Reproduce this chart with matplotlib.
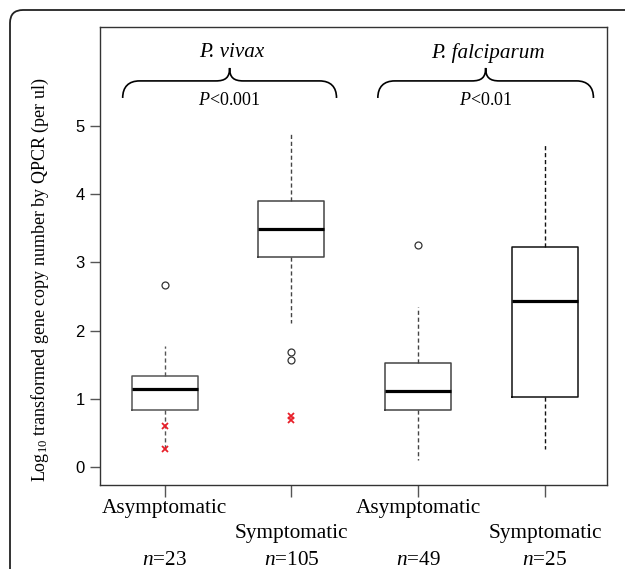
import numpy as np
import matplotlib
matplotlib.use("Agg")
import matplotlib.pyplot as plt
from matplotlib.path import Path
from matplotlib.patches import PathPatch, FancyBboxPatch
import matplotlib.transforms as mtransforms

# 数据 (从图中读取的箱线图统计量)
groups = ["Asymptomatic", "Symptomatic", "Asymptomatic", "Symptomatic"]
n_labels = ["23", "105", "49", "25"]
medians = [1.14, 3.49, 1.11, 2.43]
q1 = [0.83, 3.08, 0.84, 1.02]
q3 = [1.33, 3.90, 1.53, 3.22]
whisk_lo = [0.26, 2.11, 0.10, 0.26]
whisk_hi = [1.78, 4.89, 2.34, 4.72]
outliers = [[2.67], [1.68, 1.57], [3.25], []]
red_pts = [[0.60, 0.26], [0.75, 0.69], [], []]
species = ["P. vivax", "P. falciparum"]
p_values = ["<0.001", "<0.01"]

plt.rcParams['font.family'] = ['Liberation Serif', 'DejaVu Serif']
plt.rcParams['mathtext.fontset'] = 'custom'
plt.rcParams['mathtext.rm'] = 'Liberation Serif'
plt.rcParams['mathtext.it'] = 'Liberation Serif:italic'

fig = plt.figure(figsize=(6.25, 5.69), dpi=100)
ax = fig.add_axes([0.16, 0.1476, 0.8112, 0.8049])

pos = np.arange(1, len(medians) + 1)
stats = []
for i in range(len(medians)):
    stats.append(dict(med=medians[i], q1=q1[i], q3=q3[i],
                      whislo=whisk_lo[i], whishi=whisk_hi[i], fliers=outliers[i]))

box_cols = ["#555555", "#444444", "#444444", "#111111"]
for i, s in enumerate(stats):
    ax.bxp([s], positions=[pos[i]], widths=0.52, showcaps=False,
           boxprops=dict(color=box_cols[i], linewidth=1.1),
           medianprops=dict(color="black", linewidth=2.3),
           whiskerprops=dict(color=box_cols[i], linewidth=1.0, linestyle=(0, (3, 2))),
           flierprops=dict(marker="o", markersize=5, markerfacecolor="none",
                           markeredgecolor="#333333", markeredgewidth=0.9))
    if red_pts[i]:
        ax.plot([pos[i]] * len(red_pts[i]), red_pts[i], linestyle="none",
                marker="x", color="#e8202a", markersize=4.5, markeredgewidth=1.3, zorder=5)

ax.set_xlim(0.49, 4.49)
ax.set_ylim(-0.264, 6.45)
ax.set_yticks([0, 1, 2, 3, 4, 5])
ax.set_yticklabels(["0", "1", "2", "3", "4", "5"], family="Liberation Sans", fontsize=12)
ax.set_xticks(pos)
ax.set_xticklabels([])
ax.tick_params(axis="y", length=7, width=1, color="#555555", pad=4)
ax.tick_params(axis="x", length=8.5, width=1, color="#555555")
for sp in ax.spines.values():
    sp.set_color("#333333")
    sp.set_linewidth(1.0)

# x轴标签 (交错)
trans = mtransforms.blended_transform_factory(ax.transData, ax.transAxes)
for i in range(len(groups)):
    yy = -0.052 if i % 2 == 0 else -0.106
    ax.text(pos[i], yy, groups[i], transform=trans, ha="center", va="center", fontsize=15.3)
    ax.text(pos[i], -0.164, r"$\mathit{n}$=" + n_labels[i], transform=trans,
            ha="center", va="center", fontsize=15.3)

fig.text(40 / 625, 1 - 280 / 569,
         r"Log$_{10}$ transformed gene copy number by QPCR (per ul)",
         rotation=90, ha="center", va="center", fontsize=13)


def brace(x0, x1, y, tip=0.19, drop=0.25, cw=0.134, tw=0.11):
    xm = (x0 + x1) / 2
    verts = [(x0, y - drop),
             (x0, y - drop * 0.35), (x0 + cw * 0.35, y), (x0 + cw, y),
             (xm - tw, y),
             (xm - tw * 0.3, y), (xm, y + tip * 0.25), (xm, y + tip),
             (xm, y + tip * 0.25), (xm + tw * 0.3, y), (xm + tw, y),
             (x1 - cw, y),
             (x1 - cw * 0.35, y), (x1, y - drop * 0.35), (x1, y - drop)]
    codes = [Path.MOVETO] + [Path.CURVE4] * 3 + [Path.LINETO] + [Path.CURVE4] * 6 + \
            [Path.LINETO] + [Path.CURVE4] * 3
    ax.add_patch(PathPatch(Path(verts, codes), facecolor="none", edgecolor="black", linewidth=1.2))
    return xm


brace_x = [(0.669, 2.356), (2.682, 4.383)]
for k in range(len(species)):
    xm = brace(brace_x[k][0], brace_x[k][1], 5.66)
    ax.text(xm + 0.02, 6.07, species[k], ha="center", va="center", fontsize=15.2, style="italic")
    ax.text(xm, 5.38, r"$\mathit{P}$" + p_values[k], ha="center", va="center", fontsize=13)

# 外框 (圆角)
frame = FancyBboxPatch((0.1, -0.5), 7.0, 6.09, boxstyle="round,pad=0,rounding_size=0.13",
                       transform=fig.dpi_scale_trans, facecolor="none",
                       edgecolor="#222222", linewidth=1.3, clip_on=False)
fig.patches.append(frame)

fig.savefig("out.png", dpi=100)
